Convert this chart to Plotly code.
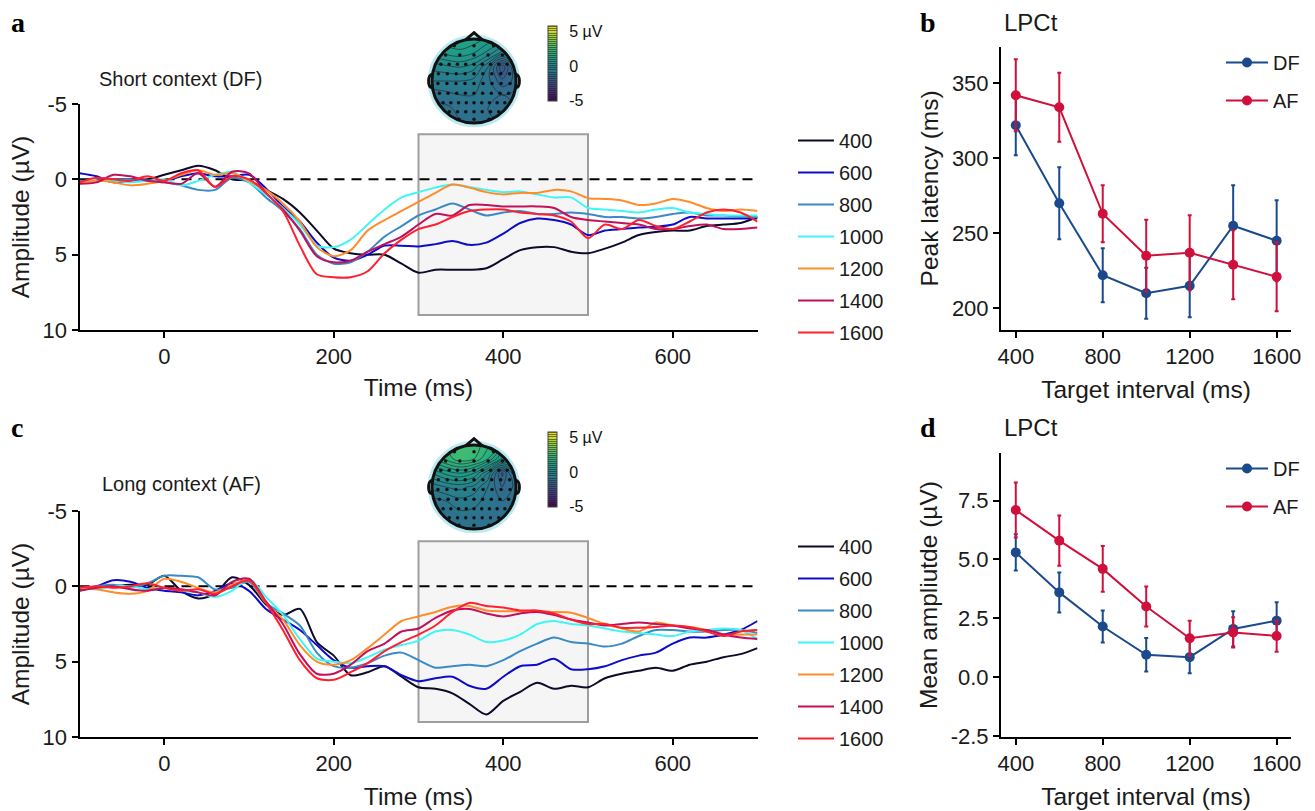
import numpy as np
import plotly.graph_objects as go

# ---------------- data ----------------
time_ms = list(range(-100, 701, 20))
intervals = ["400", "600", "800", "1000", "1200", "1400", "1600"]
erp_colors = ["#0b0b2a", "#0d0dc8", "#3a8ac6", "#3ff6f6", "#ff8c2a", "#c2105a", "#ff1f30"]

# Short context (DF), amplitude in µV
short_400 = [0.2, 0.1, 0, 0, 0, -0.3, -0.6, -0.9, -0.6, 0, 0.1, 0.7, 1.3, 2.2, 3.4, 4.6, 4.9, 5.0, 5.0, 5.6,
             6.2, 6.0, 6.0, 6.0, 5.9, 5.3, 4.7, 4.5, 4.5, 4.8, 4.9, 4.6, 4.2, 3.7, 3.5, 3.4, 3.4, 3.1, 3.0, 2.9, 2.5]
short_600 = [-0.4, -0.2, 0.2, 0.1, 0.1, 0.1, -0.2, -0.4, -0.2, -0.2, -0.3, 0.6, 1.8, 2.8, 4.2, 5.2, 5.4, 5.0, 4.4, 4.4,
             4.45, 4.3, 4.1, 4.35, 4.2, 3.6, 2.9, 2.6, 2.7, 3.0, 3.7, 3.4, 3.3, 3.2, 3.15, 3.0, 2.5, 2.6, 2.6, 2.6, 2.6]
short_800 = [0.1, 0.1, 0, 0, 0.1, 0.2, 0.4, 0.7, 0.7, -0.1, 0.2, 1.2, 2.1, 3.3, 5.0, 5.6, 5.5, 4.8, 3.8, 3.1,
             2.4, 2.0, 1.6, 2.0, 2.4, 2.2, 2.1, 2.3, 2.3, 2.2, 2.3, 2.5, 2.5, 2.6, 2.5, 2.3, 2.2, 2.4, 2.4, 2.5, 2.5]
short_1000 = [0.2, 0.1, 0.1, 0.2, 0.1, 0, 0.4, 0.1, -0.3, -0.5, 0.2, 1.0, 1.9, 3.0, 4.4, 4.5, 4.0, 3.0, 2.0, 1.2,
              0.85, 0.55, 0.35, 0.5, 0.7, 0.85, 0.8, 1.0, 1.2, 1.2, 1.9, 2.0, 2.1, 2.2, 2.0, 1.9, 2.2, 2.3, 2.4, 2.4, 2.4]
short_1200 = [0.3, 0.1, 0.2, 0.4, 0.3, 0.1, -0.3, -0.6, -0.3, -0.4, 0.1, 0.7, 1.6, 2.8, 4.5, 5.1, 4.7, 3.4, 2.7, 2.1,
              1.5, 0.9, 0.35, 0.55, 0.85, 1.0, 0.9, 0.9, 0.7, 0.8, 1.25, 1.3, 1.4, 1.7, 1.6, 1.3, 1.5, 1.9, 2.1, 2.0, 2.1]
short_1400 = [0.3, 0.2, -0.3, -0.2, 0.1, 0.2, 0.3, -0.4, 0.5, -0.5, -0.4, 0.9, 2.0, 3.4, 5.1, 5.5, 5.4, 4.8, 4.3, 3.8,
              3.0, 2.3, 2.4, 1.7, 1.7, 1.8, 1.8, 1.8, 1.9, 2.5, 2.7, 2.8, 2.9, 3.0, 3.3, 3.3, 3.1, 3.0, 3.3, 3.3, 3.2]
short_1600 = [0.2, -0.1, 0, 0.1, -0.2, 0.1, -0.4, -0.6, 0.5, -0.2, 0.0, 0.9, 2.1, 4.4, 6.3, 6.5, 6.5, 6.1, 4.9, 4.0,
              3.3, 3.0, 2.5, 2.1, 2.0, 2.0, 2.2, 2.3, 2.4, 2.8, 3.9, 3.0, 3.3, 2.7, 3.1, 3.3, 2.8, 2.2, 2.0, 2.2, 2.8]

# Long context (AF), amplitude in µV
long_400 = [0.2, 0.1, 0, -0.1, -0.1, -0.7, 0.3, 0.8, 0.5, -0.6, -0.1, 1.2, 1.9, 1.5, 3.7, 4.6, 5.9, 5.7, 5.3, 6.0,
            6.7, 6.8, 7.1, 7.8, 8.5, 7.6, 7.0, 6.4, 6.8, 6.6, 6.7, 6.1, 5.8, 5.6, 5.4, 5.6, 5.2, 5.0, 4.7, 4.5, 4.1]
long_600 = [0.2, 0, -0.4, -0.3, 0.1, 0.3, 0.4, 0.6, 0.3, -0.2, 0.3, 1.5, 2.2, 2.9, 3.9, 4.9, 5.4, 5.3, 5.3, 5.9,
            6.3, 6.1, 6.0, 6.6, 6.8, 6.0, 5.3, 5.2, 4.8, 5.5, 5.5, 5.3, 4.9, 4.6, 4.4, 3.8, 3.4, 3.4, 3.2, 2.9, 2.3]
long_800 = [0.3, 0, -0.1, 0.1, -0.2, -0.7, -0.7, -0.6, 0.2, 0.1, -0.3, 1.1, 1.8, 2.6, 4.4, 5.3, 5.4, 5.1, 4.6, 4.4,
            4.9, 5.4, 5.3, 5.2, 5.3, 4.9, 4.3, 3.8, 3.4, 3.7, 3.8, 4.0, 3.8, 3.3, 2.9, 2.9, 3.0, 3.0, 2.9, 2.9, 3.1]
long_1000 = [0.1, 0.2, 0, 0, 0.2, 0.1, 0.3, 0.4, 0.7, 0.3, -0.5, 0.7, 1.9, 3.5, 4.8, 5.0, 5.1, 4.7, 4.2, 3.9,
             3.6, 3.0, 2.9, 3.2, 3.7, 3.6, 3.2, 2.5, 2.3, 2.5, 2.6, 2.8, 3.0, 3.1, 3.2, 3.3, 3.0, 2.9, 2.8, 2.9, 3.5]
long_1200 = [0.1, 0.2, 0.4, 0.5, 0.3, -0.5, -0.3, 0.1, 0.4, -0.1, -0.4, 1.1, 2.2, 3.9, 5.0, 5.2, 4.9, 4.1, 3.2, 2.3,
             2.0, 1.7, 1.35, 1.3, 1.6, 1.65, 1.65, 1.65, 1.7, 1.75, 2.1, 2.5, 2.8, 3.0, 2.4, 2.6, 2.7, 2.9, 3.2, 3.2, 3.2]
long_1400 = [0.3, 0.1, 0, 0.2, 0.3, 0.1, 0.2, 0.4, 0.6, -0.3, -0.5, 1.0, 2.5, 4.5, 5.8, 5.8, 5.2, 4.3, 3.8, 3.0,
             2.8, 2.1, 1.6, 1.5, 1.8, 2.0, 1.8, 1.7, 1.9, 2.2, 2.4, 2.6, 2.5, 2.4, 2.5, 2.6, 2.8, 2.9, 3.2, 3.4, 3.5]
long_1600 = [0.1, 0, 0.1, 0, -0.2, 0.1, 0.3, 0.2, 0.5, 0, -0.4, 1.1, 2.9, 4.9, 6.1, 6.2, 5.7, 5.1, 4.3, 3.7,
             3.2, 2.6, 1.7, 1.1, 1.3, 1.4, 1.6, 1.6, 1.8, 2.2, 2.5, 2.5, 2.75, 2.75, 2.7, 2.6, 2.7, 3.0, 3.3, 3.0, 2.9]

short_waves = [short_400, short_600, short_800, short_1000, short_1200, short_1400, short_1600]
long_waves = [long_400, long_600, long_800, long_1000, long_1200, long_1400, long_1600]

# LPCt summary statistics per target interval
target_interval = [400, 600, 800, 1000, 1200, 1400, 1600]
latency_df = [322, 270, 222, 210, 215, 255, 245]
latency_df_err = [20, 24, 18, 17, 21, 27, 27]
latency_af = [342, 334, 263, 235, 237, 229, 221]
latency_af_err = [24, 23, 19, 24, 25, 23, 23]
amp_df = [5.3, 3.6, 2.15, 0.95, 0.85, 2.05, 2.4]
amp_df_err = [0.77, 0.85, 0.68, 0.71, 0.68, 0.75, 0.78]
amp_af = [7.1, 5.8, 4.6, 3.0, 1.65, 1.9, 1.75]
amp_af_err = [1.17, 1.07, 0.97, 0.85, 0.75, 0.64, 0.67]

# Scalp maps (300-500 ms), rows from frontal (top) to occipital (bottom)
topo_grid = [-1.0, -0.67, -0.33, 0.0, 0.33, 0.67, 1.0]
topo_short = [
    [1.0, 1.2, 1.3, 1.2, 0.9, 0.7, 0.6],
    [0.6, 0.8, 0.9, 0.7, 0.3, -0.3, 0.2],
    [-0.1, 0.0, 0.1, -0.1, -0.8, -2.3, -0.9],
    [-0.5, -0.5, -0.5, -0.6, -1.0, -1.6, -1.3],
    [-1.0, -0.9, -0.8, -0.8, -0.9, -1.1, -1.0],
    [-1.2, -1.2, -1.0, -1.0, -1.1, -1.2, -1.1],
    [-1.1, -1.2, -1.1, -1.0, -1.1, -1.1, -1.0],
]
topo_long = [
    [1.8, 2.2, 2.5, 2.4, 2.0, 1.5, 1.2],
    [1.5, 2.0, 2.4, 2.2, 1.6, 0.6, 0.8],
    [0.4, 0.8, 1.0, 0.7, -0.2, -1.8, -0.4],
    [-0.4, -0.2, -0.1, -0.3, -0.8, -1.4, -1.0],
    [-0.9, -0.8, -0.6, -0.7, -0.9, -1.1, -1.0],
    [-1.1, -1.0, -0.9, -0.9, -1.0, -1.1, -1.1],
    [-1.1, -1.1, -1.0, -1.0, -1.0, -1.1, -1.1],
]
# electrode rows: (vertical position, number of sites)
electrode_rows = [(0.84, 3), (0.62, 5), (0.40, 9), (0.17, 9), (-0.06, 9), (-0.29, 9), (-0.52, 9), (-0.73, 7), (-0.91, 3)]

DF_COLOR = "#1b4a8c"
AF_COLOR = "#d0103c"

# ---------------- layout helpers ----------------
W, H = 1315, 811
FONT = "Liberation Sans, Arial, sans-serif"
SERIF = "Liberation Serif, Times New Roman, serif"


def xdom(p0, p1):
    return [p0 / W, p1 / W]


def ydom(top, bottom):
    return [1 - bottom / H, 1 - top / H]


fig = go.Figure()

# ---------------- ERP waveforms ----------------
for panel, waves, xa, ya, leg in [("a", short_waves, "x", "y", "legend"),
                                  ("c", long_waves, "x2", "y2", "legend2")]:
    for name, vals, col in zip(intervals, waves, erp_colors):
        fig.add_trace(go.Scatter(
            x=time_ms, y=vals, mode="lines", name=name,
            line=dict(color=col, width=2, shape="spline", smoothing=0.8),
            xaxis=xa, yaxis=ya, legend=leg, legendgroup=panel + name,
            hoverinfo="skip"))

# ---------------- LPCt summaries ----------------
for xa, ya, leg, ydf, edf, yaf, eaf in [
        ("x3", "y3", "legend3", latency_df, latency_df_err, latency_af, latency_af_err),
        ("x4", "y4", "legend4", amp_df, amp_df_err, amp_af, amp_af_err)]:
    for name, vals, errs, col in [("DF", ydf, edf, DF_COLOR), ("AF", yaf, eaf, AF_COLOR)]:
        fig.add_trace(go.Scatter(
            x=target_interval, y=vals, mode="lines+markers", name=name,
            line=dict(color=col, width=2), marker=dict(color=col, size=10),
            error_y=dict(type="data", array=errs, color=col, thickness=2, width=2),
            xaxis=xa, yaxis=ya, legend=leg, legendgroup=leg + name, hoverinfo="skip"))

# ---------------- scalp maps ----------------
ex, ey = [], []
for yy, n in electrode_rows:
    half = 0.86 * np.sqrt(1 - yy ** 2)
    for xx in np.linspace(-half, half, n):
        ex.append(xx)
        ey.append(yy)

for z, xa, ya, cb_top in [(topo_short, "x5", "y5", 26), (topo_long, "x6", "y6", 432)]:
    fig.add_trace(go.Contour(
        x=topo_grid, y=topo_grid, z=z[::-1], colorscale="Viridis", zmin=-5.1, zmax=5.85,
        contours=dict(coloring="heatmap", start=-5, end=6, size=0.3),
        line=dict(width=0.9, color="rgba(35,35,35,0.7)"),
        xaxis=xa, yaxis=ya, showlegend=False, hoverinfo="skip",
        colorbar=dict(x=548 / W, xanchor="left", y=1 - cb_top / H, yanchor="top",
                      lenmode="pixels", len=75, thickness=9, xpad=0, ypad=0,
                      outlinewidth=1, outlinecolor="#444",
                      tickvals=[-5, 0, 5], ticktext=["-5", "0", "5 µV"],
                      ticks="outside", ticklen=9, tickcolor="rgba(0,0,0,0)",
                      tickfont=dict(family=FONT, size=16, color="#111"))))
    fig.add_trace(go.Scatter(x=ex, y=ey, mode="markers",
                             marker=dict(color="#111", size=3.5, symbol="circle"),
                             xaxis=xa, yaxis=ya, showlegend=False, hoverinfo="skip"))

# ---------------- axes ----------------
axis_common = dict(showgrid=False, zeroline=False, showline=True, linecolor="black", linewidth=2,
                   ticks="outside", ticklen=6, tickwidth=2, tickcolor="black", automargin=False,
                   tickfont=dict(family=FONT, size=22, color="#1a1a1a"))
title_font = dict(family=FONT, size=24.5, color="#1a1a1a")

erp_x = dict(axis_common, range=[-100, 700], tickvals=[0, 200, 400, 600])
erp_y = dict(axis_common, range=[10, -5], tickvals=[-5, 0, 5, 10], ticktext=["-5", "0", "5", "10"],
             title=dict(text="Amplitude (µV)", font=title_font, standoff=6))
sum_x = dict(axis_common, range=[332, 1666], tickvals=[400, 800, 1200, 1600])
hidden = dict(visible=False, range=[-1.19, 1.19], fixedrange=True)

fig.update_layout(
    xaxis=dict(erp_x, domain=xdom(79.5, 757.5), anchor="y",
               title=dict(text="Time (ms)", font=title_font, standoff=10)),
    yaxis=dict(erp_y, domain=ydom(104, 330), anchor="x"),
    xaxis2=dict(erp_x, domain=xdom(79.5, 757.5), anchor="y2",
                title=dict(text="Time (ms)", font=title_font, standoff=12)),
    yaxis2=dict(erp_y, domain=ydom(511, 737), anchor="x2"),
    xaxis3=dict(sum_x, domain=xdom(1001, 1291), anchor="y3",
                title=dict(text="Target interval (ms)", font=title_font, standoff=12)),
    yaxis3=dict(axis_common, domain=ydom(46.7, 330), anchor="x3", range=[185.5, 374.4],
                tickvals=[200, 250, 300, 350],
                title=dict(text="Peak latency (ms)", font=title_font, standoff=6)),
    xaxis4=dict(sum_x, domain=xdom(1001, 1291), anchor="y4",
                title=dict(text="Target interval (ms)", font=title_font, standoff=13)),
    yaxis4=dict(axis_common, domain=ydom(453.3, 736.7), anchor="x4", range=[-2.53, 9.51],
                tickvals=[-2.5, 0, 2.5, 5, 7.5], ticktext=["-2.5", "0.0", "2.5", "5.0", "7.5"],
                title=dict(text="Mean ampliutde (µV)", font=title_font, standoff=6)),
    xaxis5=dict(hidden, domain=xdom(424, 524), anchor="y5"),
    yaxis5=dict(hidden, domain=ydom(31, 131), anchor="x5"),
    xaxis6=dict(hidden, domain=xdom(424, 524), anchor="y6"),
    yaxis6=dict(hidden, domain=ydom(437, 537), anchor="x6"),
)

# ---------------- legends ----------------
erp_legend = dict(font=dict(family=FONT, size=20, color="#1a1a1a"), bgcolor="rgba(0,0,0,0)",
                  tracegroupgap=3, itemclick=False, itemdoubleclick=False, itemwidth=36,
                  xanchor="left", yanchor="top", x=793 / W)
sum_legend = dict(font=dict(family=FONT, size=20, color="#1a1a1a"), bgcolor="rgba(0,0,0,0)",
                  tracegroupgap=9, itemclick=False, itemdoubleclick=False, itemwidth=42,
                  xanchor="left", yanchor="top", x=1221 / W)
fig.update_layout(
    legend=dict(erp_legend, y=1 - 121 / H),
    legend2=dict(erp_legend, y=1 - 527 / H),
    legend3=dict(sum_legend, y=1 - 43 / H),
    legend4=dict(sum_legend, y=1 - 449 / H),
)

# ---------------- shapes ----------------
shapes = []
for xr, yr in [("x", "y"), ("x2", "y2")]:
    shapes.append(dict(type="rect", xref=xr, yref=yr, x0=300, x1=500, y0=-3, y1=9,
                       fillcolor="#f5f5f5", line=dict(color="#9e9e9e", width=2), layer="below"))
    shapes.append(dict(type="line", xref=xr, yref=yr, x0=-100, x1=700, y0=0, y1=0,
                       line=dict(color="black", width=2, dash="10px,7px"), layer="below"))


def circle_path(r):
    k = 0.5523 * r
    return (f"M {r},0 C {r},{k} {k},{r} 0,{r} C {-k},{r} {-r},{k} {-r},0 "
            f"C {-r},{-k} {-k},{-r} 0,{-r} C {k},{-r} {r},{-k} {r},0 Z")


for xr, yr in [("x5", "y5"), ("x6", "y6")]:
    s = 1.19
    mask = f"M {-s},{-s} L {s},{-s} L {s},{s} L {-s},{s} Z " + circle_path(1.0)
    shapes.append(dict(type="path", xref=xr, yref=yr, path=mask, fillrule="evenodd",
                       fillcolor="white", line=dict(width=0), layer="above"))
    shapes.append(dict(type="circle", xref=xr, yref=yr, x0=-1.04, x1=1.04, y0=-1.04, y1=1.04,
                       line=dict(color="rgba(160,225,235,0.7)", width=5), layer="above"))
    shapes.append(dict(type="circle", xref=xr, yref=yr, x0=-1, x1=1, y0=-1, y1=1,
                       line=dict(color="#111", width=3), layer="above"))
    shapes.append(dict(type="path", xref=xr, yref=yr, path="M -0.2,0.98 L 0,1.15 L 0.2,0.98",
                       line=dict(color="#111", width=3), layer="above"))
    shapes.append(dict(type="path", xref=xr, yref=yr,
                       path="M -0.99,0.16 C -1.1,0.16 -1.12,-0.14 -0.99,-0.16",
                       line=dict(color="#111", width=3), layer="above"))
    shapes.append(dict(type="path", xref=xr, yref=yr,
                       path="M 0.99,0.16 C 1.1,0.16 1.12,-0.14 0.99,-0.16",
                       line=dict(color="#111", width=3), layer="above"))

# ---------------- text ----------------
ann = []
for label, x, y in [("a", 9, 23), ("b", 918, 23), ("c", 9, 428), ("d", 918, 428)]:
    ann.append(dict(text=f"<b>{label}</b>", x=x / W, y=1 - y / H, xref="paper", yref="paper",
                    xanchor="left", yanchor="middle", showarrow=False,
                    font=dict(family=SERIF, size=28, color="black")))
for x, y in [(1002, 22), (1002, 427)]:
    ann.append(dict(text="LPCt", x=x / W, y=1 - y / H, xref="paper", yref="paper",
                    xanchor="left", yanchor="middle", showarrow=False,
                    font=dict(family=FONT, size=24, color="#1a1a1a")))
for text, x, y in [("Short context (DF)", 97, 79), ("Long context (AF)", 100, 484)]:
    ann.append(dict(text=text, x=x / W, y=1 - y / H, xref="paper", yref="paper",
                    xanchor="left", yanchor="middle", showarrow=False,
                    font=dict(family=FONT, size=20, color="#1a1a1a")))

fig.update_layout(
    width=W, height=H, margin=dict(l=0, r=0, t=0, b=0, autoexpand=False),
    paper_bgcolor="white", plot_bgcolor="white",
    font=dict(family=FONT, color="#1a1a1a"),
    shapes=shapes, annotations=ann,
)

fig.write_html("out.html")
